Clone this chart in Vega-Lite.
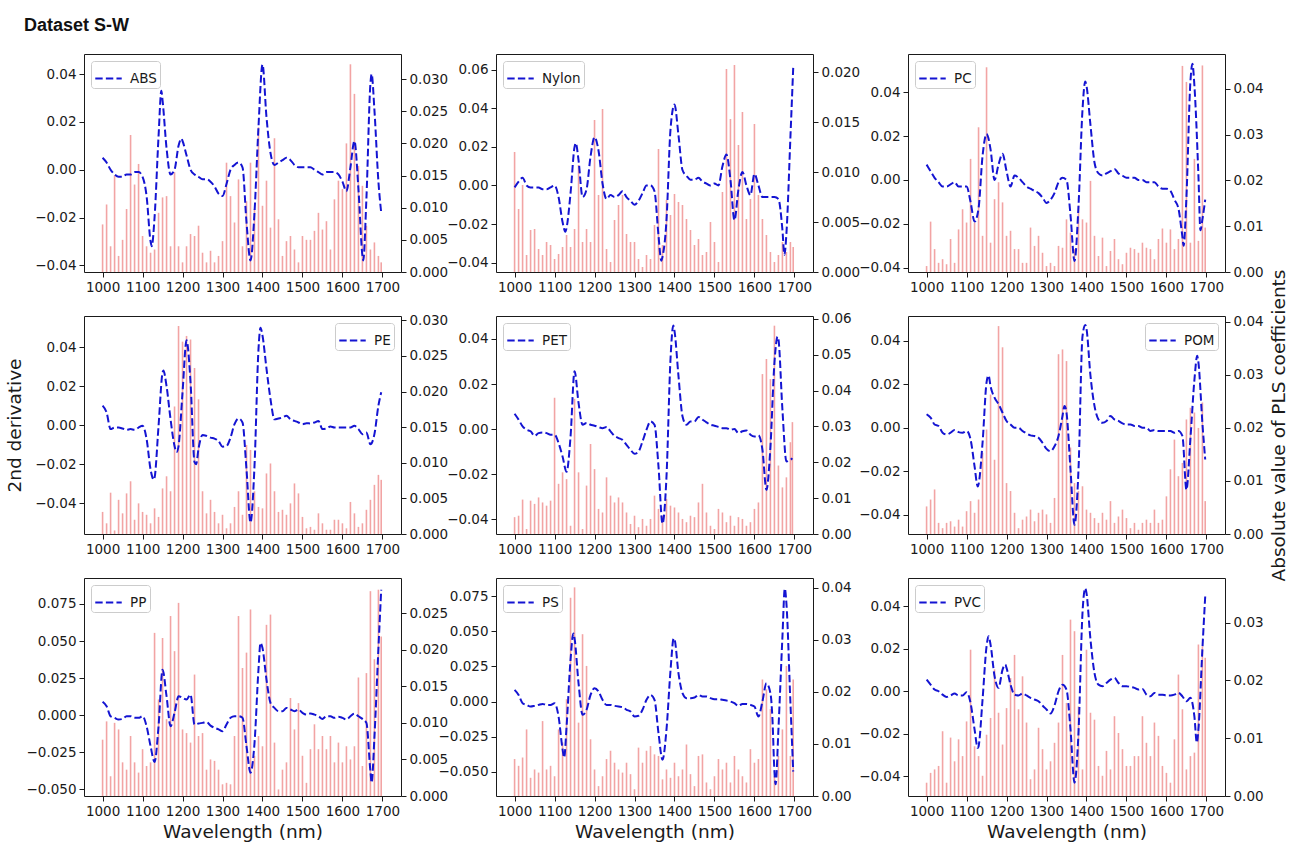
{
"$schema":"https://vega.github.io/schema/vega-lite/v6.json",
"padding":{"left":4,"top":16,"right":5,"bottom":5},
"title":{"text":"Dataset S-W","anchor":"start","frame":"group","font":"Liberation Sans","fontSize":18,"fontWeight":"bold","color":"#111111","dx":-60,"offset":5,"baseline":"alphabetic"},
"datasets":{
"abs":[{"w":1000,"d":0.005,"c":0.0074},{"w":1010,"d":0.003,"c":0.0105},{"w":1020,"d":0.0,"c":0.004},{"w":1030,"d":-0.002,"c":0.015},{"w":1040,"d":-0.003,"c":0.0025},{"w":1050,"d":-0.003,"c":0.005},{"w":1060,"d":-0.002,"c":0.0098},{"w":1070,"d":-0.002,"c":0.0213},{"w":1080,"d":-0.001,"c":0.0136},{"w":1090,"d":-0.001,"c":0.0168},{"w":1100,"d":-0.003,"c":0.0056},{"w":1110,"d":-0.011,"c":0.004},{"w":1120,"d":-0.03,"c":0.003},{"w":1123,"d":-0.032},{"w":1130,"d":-0.02,"c":0.0035},{"w":1140,"d":0.014,"c":0.0092},{"w":1147,"d":0.033},{"w":1150,"d":0.029,"c":0.0116},{"w":1160,"d":0.009,"c":0.0118},{"w":1170,"d":-0.002,"c":0.004},{"w":1180,"d":0.0,"c":0.0155},{"w":1190,"d":0.01,"c":0.004},{"w":1197,"d":0.013},{"w":1200,"d":0.012,"c":0.0015},{"w":1210,"d":0.006,"c":0.004},{"w":1220,"d":0.0,"c":0.0059},{"w":1230,"d":-0.002,"c":0.0056},{"w":1240,"d":-0.003,"c":0.0072},{"w":1250,"d":-0.004,"c":0.003},{"w":1260,"d":-0.004,"c":0.0015},{"w":1270,"d":-0.005,"c":0.0033},{"w":1280,"d":-0.007,"c":0.0015},{"w":1290,"d":-0.01,"c":0.0025},{"w":1300,"d":-0.011,"c":0.0048},{"w":1310,"d":-0.006,"c":0.017},{"w":1320,"d":0.0,"c":0.0118},{"w":1330,"d":0.002,"c":0.0077},{"w":1340,"d":0.003,"c":0.0144},{"w":1350,"d":0.001,"c":0.004},{"w":1360,"d":-0.022,"c":0.011},{"w":1370,"d":-0.038,"c":0.017},{"w":1380,"d":-0.018,"c":0.0098},{"w":1390,"d":0.018,"c":0.0225},{"w":1400,"d":0.044,"c":0.0103},{"w":1410,"d":0.022,"c":0.0142},{"w":1420,"d":0.007,"c":0.0069},{"w":1430,"d":0.002,"c":0.0208},{"w":1440,"d":0.003,"c":0.0082},{"w":1450,"d":0.004,"c":0.0025},{"w":1460,"d":0.005,"c":0.0048},{"w":1470,"d":0.004,"c":0.0056},{"w":1480,"d":0.002,"c":0.0035},{"w":1490,"d":0.001,"c":0.0015},{"w":1500,"d":0.001,"c":0.0056},{"w":1510,"d":0.001,"c":0.005},{"w":1520,"d":0.001,"c":0.005},{"w":1530,"d":0.0,"c":0.0064},{"w":1540,"d":-0.001,"c":0.0092},{"w":1550,"d":-0.002,"c":0.0066},{"w":1560,"d":-0.001,"c":0.0079},{"w":1570,"d":-0.001,"c":0.0035},{"w":1580,"d":-0.001,"c":0.0113},{"w":1590,"d":-0.002,"c":0.0142},{"w":1600,"d":-0.005,"c":0.0129},{"w":1610,"d":-0.009,"c":0.02},{"w":1620,"d":0.001,"c":0.0323},{"w":1630,"d":0.012,"c":0.0277},{"w":1640,"d":-0.008,"c":0.0165},{"w":1650,"d":-0.036,"c":0.0134},{"w":1652,"d":-0.038},{"w":1660,"d":-0.012,"c":0.0072},{"w":1670,"d":0.036,"c":0.0035},{"w":1673,"d":0.04},{"w":1680,"d":0.025,"c":0.0046},{"w":1690,"d":-0.005,"c":0.0025},{"w":1697,"d":-0.018,"c":0.0015}],
"nylon":[{"w":1000,"d":-0.001,"c":0.012},{"w":1010,"d":0.002,"c":0.0063},{"w":1020,"d":0.004,"c":0.0087},{"w":1030,"d":0.0,"c":0.0017},{"w":1040,"d":-0.001,"c":0.0042},{"w":1050,"d":-0.001,"c":0.0043},{"w":1060,"d":-0.001,"c":0.0023},{"w":1070,"d":-0.002,"c":0.0017},{"w":1080,"d":-0.002,"c":0.003},{"w":1090,"d":-0.001,"c":0.0027},{"w":1100,"d":0.0,"c":0.0013},{"w":1110,"d":-0.006,"c":0.0018},{"w":1120,"d":-0.019,"c":0.0025},{"w":1127,"d":-0.024},{"w":1130,"d":-0.022,"c":0.0037},{"w":1140,"d":-0.004,"c":0.0025},{"w":1150,"d":0.02,"c":0.0043},{"w":1153,"d":0.022},{"w":1160,"d":0.013,"c":0.0107},{"w":1170,"d":-0.006,"c":0.003},{"w":1180,"d":-0.002,"c":0.0043},{"w":1190,"d":0.015,"c":0.003},{"w":1200,"d":0.025,"c":0.0152},{"w":1210,"d":0.018,"c":0.0077},{"w":1220,"d":0.001,"c":0.0163},{"w":1230,"d":-0.007,"c":0.0023},{"w":1240,"d":-0.005,"c":0.001},{"w":1250,"d":-0.006,"c":0.0052},{"w":1260,"d":-0.005,"c":0.0067},{"w":1270,"d":-0.003,"c":0.0077},{"w":1280,"d":-0.006,"c":0.0038},{"w":1290,"d":-0.008,"c":0.003},{"w":1300,"d":-0.01,"c":0.003},{"w":1310,"d":-0.008,"c":0.0013},{"w":1320,"d":-0.004,"c":0.0005},{"w":1330,"d":0.0,"c":0.0017},{"w":1340,"d":0.0,"c":0.0013},{"w":1350,"d":-0.003,"c":0.0047},{"w":1360,"d":-0.026,"c":0.0123},{"w":1367,"d":-0.039},{"w":1370,"d":-0.037,"c":0.0027},{"w":1380,"d":-0.018,"c":0.0072},{"w":1390,"d":0.029,"c":0.0057},{"w":1400,"d":0.042,"c":0.0078},{"w":1410,"d":0.026,"c":0.007},{"w":1420,"d":0.008,"c":0.0067},{"w":1430,"d":0.005,"c":0.0053},{"w":1440,"d":0.003,"c":0.0042},{"w":1450,"d":0.003,"c":0.0027},{"w":1460,"d":0.004,"c":0.0033},{"w":1470,"d":0.002,"c":0.0017},{"w":1480,"d":0.001,"c":0.002},{"w":1490,"d":0.0,"c":0.005},{"w":1500,"d":0.001,"c":0.003},{"w":1510,"d":0.0,"c":0.001},{"w":1520,"d":0.01,"c":0.008},{"w":1530,"d":0.016,"c":0.0203},{"w":1540,"d":0.003,"c":0.0153},{"w":1550,"d":-0.018,"c":0.0207},{"w":1560,"d":-0.002,"c":0.0127},{"w":1570,"d":0.007,"c":0.016},{"w":1580,"d":0.0,"c":0.0053},{"w":1590,"d":-0.005,"c":0.0073},{"w":1600,"d":0.006,"c":0.0148},{"w":1610,"d":0.0,"c":0.0077},{"w":1620,"d":-0.006,"c":0.0053},{"w":1630,"d":-0.006,"c":0.0037},{"w":1640,"d":-0.006,"c":0.002},{"w":1650,"d":-0.006,"c":0.001},{"w":1660,"d":-0.007,"c":0.0017},{"w":1670,"d":-0.023,"c":0.003},{"w":1675,"d":-0.036},{"w":1680,"d":-0.025,"c":0.002},{"w":1690,"d":0.025,"c":0.003},{"w":1697,"d":0.061,"c":0.0025}],
"pc":[{"w":1000,"d":0.007,"c":0.0013},{"w":1010,"d":0.004,"c":0.011},{"w":1020,"d":0.001,"c":0.005},{"w":1030,"d":-0.001,"c":0.002},{"w":1040,"d":-0.003,"c":0.0028},{"w":1050,"d":-0.003,"c":0.0017},{"w":1060,"d":-0.002,"c":0.0072},{"w":1070,"d":-0.001,"c":0.002},{"w":1080,"d":-0.003,"c":0.0093},{"w":1090,"d":-0.003,"c":0.0137},{"w":1100,"d":-0.003,"c":0.0108},{"w":1110,"d":-0.01,"c":0.0247},{"w":1120,"d":-0.019,"c":0.0108},{"w":1130,"d":-0.013,"c":0.0316},{"w":1140,"d":0.011,"c":0.0079},{"w":1150,"d":0.021,"c":0.0447},{"w":1160,"d":0.014,"c":0.0064},{"w":1170,"d":0.0,"c":0.0159},{"w":1180,"d":0.007,"c":0.0196},{"w":1190,"d":0.012,"c":0.0152},{"w":1200,"d":0.004,"c":0.0079},{"w":1210,"d":-0.003,"c":0.009},{"w":1220,"d":0.002,"c":0.005},{"w":1230,"d":0.001,"c":0.005},{"w":1240,"d":-0.001,"c":0.002},{"w":1250,"d":-0.003,"c":0.002},{"w":1260,"d":-0.004,"c":0.0097},{"w":1270,"d":-0.005,"c":0.0057},{"w":1280,"d":-0.006,"c":0.0079},{"w":1290,"d":-0.008,"c":0.0042},{"w":1300,"d":-0.0105,"c":0.0013},{"w":1310,"d":-0.009,"c":0.002},{"w":1320,"d":-0.006,"c":0.0013},{"w":1330,"d":-0.001,"c":0.0057},{"w":1340,"d":0.001,"c":0.0053},{"w":1350,"d":0.0,"c":0.0115},{"w":1360,"d":-0.016,"c":0.0086},{"w":1370,"d":-0.037,"c":0.005},{"w":1380,"d":-0.012,"c":0.0145},{"w":1390,"d":0.032,"c":0.0115},{"w":1397,"d":0.045},{"w":1400,"d":0.043,"c":0.0108},{"w":1410,"d":0.025,"c":0.0199},{"w":1420,"d":0.008,"c":0.0079},{"w":1430,"d":0.003,"c":0.0035},{"w":1440,"d":0.002,"c":0.0075},{"w":1450,"d":0.003,"c":0.0013},{"w":1460,"d":0.004,"c":0.0046},{"w":1470,"d":0.005,"c":0.0072},{"w":1480,"d":0.003,"c":0.0028},{"w":1490,"d":0.002,"c":0.0017},{"w":1500,"d":0.001,"c":0.0042},{"w":1510,"d":0.001,"c":0.0053},{"w":1520,"d":0.001,"c":0.005},{"w":1530,"d":0.0,"c":0.0042},{"w":1540,"d":0.0,"c":0.0064},{"w":1550,"d":-0.001,"c":0.0053},{"w":1560,"d":-0.001,"c":0.005},{"w":1570,"d":-0.001,"c":0.0028},{"w":1580,"d":-0.003,"c":0.0072},{"w":1590,"d":-0.004,"c":0.0095},{"w":1600,"d":-0.004,"c":0.0064},{"w":1610,"d":-0.005,"c":0.0093},{"w":1620,"d":-0.009,"c":0.005},{"w":1630,"d":-0.013,"c":0.0072},{"w":1640,"d":-0.026,"c":0.045},{"w":1643,"d":-0.03},{"w":1650,"d":-0.008,"c":0.0415},{"w":1660,"d":0.045,"c":0.0064},{"w":1665,"d":0.053},{"w":1670,"d":0.043,"c":0.0247},{"w":1680,"d":0.002,"c":0.0068},{"w":1685,"d":-0.023},{"w":1690,"d":-0.018,"c":0.0451},{"w":1697,"d":-0.009,"c":0.0097}],
"pe":[{"w":1000,"d":0.01,"c":0.0031},{"w":1010,"d":0.0065,"c":0.0015},{"w":1020,"d":-0.002,"c":0.0058},{"w":1030,"d":-0.0012,"c":0.0005},{"w":1040,"d":-0.0012,"c":0.0048},{"w":1050,"d":-0.0017,"c":0.0029},{"w":1060,"d":-0.0024,"c":0.0057},{"w":1070,"d":-0.002,"c":0.0074},{"w":1080,"d":-0.0024,"c":0.002},{"w":1090,"d":-0.0012,"c":0.0043},{"w":1100,"d":-0.0003,"c":0.0031},{"w":1110,"d":-0.007,"c":0.0027},{"w":1120,"d":-0.0227,"c":0.0015},{"w":1128,"d":-0.028},{"w":1130,"d":-0.027,"c":0.0036},{"w":1140,"d":-0.0003,"c":0.0024},{"w":1150,"d":0.027,"c":0.0064},{"w":1152,"d":0.028},{"w":1160,"d":0.02,"c":0.0081},{"w":1170,"d":0.003,"c":0.006},{"w":1180,"d":-0.0107,"c":0.0179},{"w":1185,"d":-0.0138},{"w":1190,"d":-0.0107,"c":0.0292},{"w":1200,"d":0.0169,"c":0.027},{"w":1210,"d":0.0435,"c":0.0278},{"w":1220,"d":0.022,"c":0.0273},{"w":1230,"d":-0.019,"c":0.0233},{"w":1234,"d":-0.02},{"w":1240,"d":-0.012,"c":0.0189},{"w":1250,"d":-0.005,"c":0.006},{"w":1260,"d":-0.0055,"c":0.0029},{"w":1270,"d":-0.0064,"c":0.0048},{"w":1280,"d":-0.0069,"c":0.0031},{"w":1290,"d":-0.0081,"c":0.0015},{"w":1300,"d":-0.011,"c":0.0027},{"w":1310,"d":-0.0107,"c":0.0008},{"w":1320,"d":-0.0064,"c":0.0015},{"w":1330,"d":0.0005,"c":0.0038},{"w":1340,"d":0.0034,"c":0.006},{"w":1350,"d":0.0014,"c":0.0027},{"w":1360,"d":-0.0227,"c":0.0125},{"w":1370,"d":-0.05,"c":0.0118},{"w":1380,"d":-0.021,"c":0.006},{"w":1390,"d":0.039,"c":0.0038},{"w":1395,"d":0.05},{"w":1400,"d":0.046,"c":0.0036},{"w":1410,"d":0.029,"c":0.0085},{"w":1420,"d":0.0134,"c":0.0099},{"w":1430,"d":0.003,"c":0.006},{"w":1440,"d":0.0034,"c":0.0031},{"w":1450,"d":0.004,"c":0.0034},{"w":1460,"d":0.0048,"c":0.0027},{"w":1470,"d":0.003,"c":0.0043},{"w":1480,"d":0.0022,"c":0.0071},{"w":1490,"d":0.0014,"c":0.0057},{"w":1500,"d":0.0005,"c":0.0024},{"w":1510,"d":0.001,"c":0.0008},{"w":1520,"d":0.0009,"c":0.001},{"w":1530,"d":0.0014,"c":0.0006},{"w":1540,"d":0.0022,"c":0.0029},{"w":1550,"d":-0.002,"c":0.0015},{"w":1560,"d":-0.0017,"c":0.0006},{"w":1570,"d":-0.0007,"c":0.0006},{"w":1580,"d":-0.0012,"c":0.002},{"w":1590,"d":-0.0012,"c":0.002},{"w":1600,"d":-0.0012,"c":0.0015},{"w":1610,"d":-0.0012,"c":0.0008},{"w":1620,"d":-0.0012,"c":0.0045},{"w":1630,"d":-0.0003,"c":0.0029},{"w":1640,"d":-0.002,"c":0.001},{"w":1650,"d":-0.0046,"c":0.0015},{"w":1660,"d":-0.0038,"c":0.0034},{"w":1670,"d":-0.0098,"c":0.0048},{"w":1680,"d":-0.0046,"c":0.0069},{"w":1690,"d":0.01,"c":0.0083},{"w":1697,"d":0.0169,"c":0.0076}],
"pet":[{"w":1000,"d":0.0068,"c":0.0047},{"w":1010,"d":0.0042,"c":0.0051},{"w":1020,"d":0.0012,"c":0.0096},{"w":1030,"d":-0.0003,"c":0.0014},{"w":1040,"d":-0.001,"c":0.0093},{"w":1050,"d":-0.003,"c":0.0084},{"w":1060,"d":-0.0018,"c":0.0102},{"w":1070,"d":-0.0015,"c":0.0088},{"w":1080,"d":-0.0018,"c":0.0079},{"w":1090,"d":-0.0025,"c":0.0093},{"w":1100,"d":-0.0025,"c":0.038},{"w":1110,"d":-0.0062,"c":0.014},{"w":1120,"d":-0.0122,"c":0.0172},{"w":1130,"d":-0.019,"c":0.0153},{"w":1140,"d":-0.0033,"c":0.0023},{"w":1150,"d":0.0257,"c":0.0377},{"w":1160,"d":0.0116,"c":0.0172},{"w":1170,"d":0.0019,"c":0.0014},{"w":1180,"d":0.0027,"c":0.0135},{"w":1190,"d":0.0019,"c":0.0251},{"w":1200,"d":0.0015,"c":0.0181},{"w":1210,"d":0.0009,"c":0.007},{"w":1220,"d":0.0004,"c":0.006},{"w":1230,"d":0.0009,"c":0.0158},{"w":1240,"d":-0.001,"c":0.0107},{"w":1250,"d":-0.003,"c":0.0088},{"w":1260,"d":-0.004,"c":0.0102},{"w":1270,"d":-0.0048,"c":0.0088},{"w":1280,"d":-0.007,"c":0.006},{"w":1290,"d":-0.0092,"c":0.0028},{"w":1300,"d":-0.011,"c":0.0051},{"w":1310,"d":-0.01,"c":0.0019},{"w":1320,"d":-0.0055,"c":0.0042},{"w":1330,"d":-0.0003,"c":0.0023},{"w":1340,"d":0.0034,"c":0.0042},{"w":1350,"d":0.0019,"c":0.0107},{"w":1360,"d":-0.0167,"c":0.007},{"w":1370,"d":-0.042,"c":0.0051},{"w":1380,"d":-0.0211,"c":0.0098},{"w":1390,"d":0.031,"c":0.0079},{"w":1397,"d":0.046},{"w":1400,"d":0.0436,"c":0.0074},{"w":1410,"d":0.0235,"c":0.006},{"w":1420,"d":0.0057,"c":0.0042},{"w":1430,"d":0.0019,"c":0.0033},{"w":1440,"d":0.0034,"c":0.0051},{"w":1450,"d":0.0034,"c":0.0047},{"w":1460,"d":0.0054,"c":0.0088},{"w":1470,"d":0.0042,"c":0.014},{"w":1480,"d":0.003,"c":0.006},{"w":1490,"d":0.0019,"c":0.0023},{"w":1500,"d":0.0015,"c":0.0014},{"w":1510,"d":0.0009,"c":0.007},{"w":1520,"d":0.0004,"c":0.006},{"w":1530,"d":0.0004,"c":0.0033},{"w":1540,"d":-0.0003,"c":0.0051},{"w":1550,"d":0.0,"c":0.0023},{"w":1560,"d":-0.0018,"c":0.0047},{"w":1570,"d":-0.001,"c":0.0042},{"w":1580,"d":-0.0006,"c":0.0023},{"w":1590,"d":-0.0025,"c":0.0033},{"w":1600,"d":-0.0033,"c":0.007},{"w":1610,"d":-0.0028,"c":0.0088},{"w":1620,"d":-0.0092,"c":0.0446},{"w":1630,"d":-0.027,"c":0.0488},{"w":1640,"d":-0.008,"c":0.0432},{"w":1650,"d":0.0294,"c":0.0581},{"w":1658,"d":0.041},{"w":1660,"d":0.04,"c":0.0191},{"w":1670,"d":0.0086,"c":0.013},{"w":1680,"d":-0.0144,"c":0.0158},{"w":1690,"d":-0.0137,"c":0.0256},{"w":1695,"d":-0.013,"c":0.0312}],
"pom":[{"w":1000,"d":0.0062,"c":0.0052},{"w":1010,"d":0.0046,"c":0.0065},{"w":1020,"d":0.0015,"c":0.0084},{"w":1030,"d":0.0008,"c":0.0021},{"w":1040,"d":-0.0023,"c":0.0011},{"w":1050,"d":-0.0031,"c":0.0021},{"w":1060,"d":-0.0023,"c":0.0024},{"w":1070,"d":-0.0011,"c":0.0014},{"w":1080,"d":-0.002,"c":0.0027},{"w":1090,"d":-0.0023,"c":0.0014},{"w":1100,"d":-0.0015,"c":0.0043},{"w":1110,"d":-0.0054,"c":0.0062},{"w":1120,"d":-0.0177,"c":0.004},{"w":1128,"d":-0.027},{"w":1130,"d":-0.026,"c":0.0065},{"w":1140,"d":-0.0069,"c":0.0153},{"w":1150,"d":0.0208,"c":0.0197},{"w":1155,"d":0.024},{"w":1160,"d":0.019,"c":0.0263},{"w":1170,"d":0.0138,"c":0.014},{"w":1180,"d":0.0108,"c":0.0392},{"w":1190,"d":0.0069,"c":0.0352},{"w":1200,"d":0.0031,"c":0.0096},{"w":1210,"d":0.0015,"c":0.0081},{"w":1220,"d":0.0,"c":0.004},{"w":1230,"d":0.0,"c":0.0011},{"w":1240,"d":-0.0015,"c":0.0027},{"w":1250,"d":-0.0026,"c":0.0033},{"w":1260,"d":-0.0035,"c":0.0046},{"w":1270,"d":-0.0038,"c":0.0024},{"w":1280,"d":-0.0046,"c":0.004},{"w":1290,"d":-0.0069,"c":0.0046},{"w":1300,"d":-0.0097,"c":0.0037},{"w":1310,"d":-0.0108,"c":0.0021},{"w":1320,"d":-0.0085,"c":0.0068},{"w":1330,"d":-0.0038,"c":0.0339},{"w":1340,"d":0.0054,"c":0.0348},{"w":1345,"d":0.01},{"w":1350,"d":0.0069,"c":0.0326},{"w":1360,"d":-0.0192,"c":0.0163},{"w":1370,"d":-0.0446,"c":0.0096},{"w":1380,"d":-0.0192,"c":0.0081},{"w":1390,"d":0.042,"c":0.009},{"w":1397,"d":0.0472},{"w":1400,"d":0.0454,"c":0.0046},{"w":1410,"d":0.0238,"c":0.004},{"w":1420,"d":0.01,"c":0.003},{"w":1430,"d":0.0038,"c":0.0021},{"w":1440,"d":0.0023,"c":0.004},{"w":1450,"d":0.0031,"c":0.0027},{"w":1460,"d":0.0054,"c":0.0062},{"w":1470,"d":0.0038,"c":0.0021},{"w":1480,"d":0.0031,"c":0.0033},{"w":1490,"d":0.002,"c":0.0046},{"w":1500,"d":0.0015,"c":0.003},{"w":1510,"d":0.0015,"c":0.0011},{"w":1520,"d":0.0008,"c":0.0021},{"w":1530,"d":0.0008,"c":0.0008},{"w":1540,"d":0.0,"c":0.0021},{"w":1550,"d":0.0,"c":0.0027},{"w":1560,"d":-0.0015,"c":0.0021},{"w":1570,"d":-0.0011,"c":0.0046},{"w":1580,"d":-0.0015,"c":0.0021},{"w":1590,"d":-0.0015,"c":0.0027},{"w":1600,"d":-0.0015,"c":0.0071},{"w":1610,"d":-0.0015,"c":0.0122},{"w":1620,"d":-0.0023,"c":0.0178},{"w":1630,"d":-0.0015,"c":0.0109},{"w":1640,"d":-0.0038,"c":0.0134},{"w":1650,"d":-0.0285,"c":0.0216},{"w":1660,"d":-0.005,"c":0.0238},{"w":1670,"d":0.022,"c":0.0229},{"w":1677,"d":0.033},{"w":1680,"d":0.03,"c":0.02},{"w":1690,"d":0.002,"c":0.0248},{"w":1697,"d":-0.0146,"c":0.0062}],
"pp":[{"w":1000,"d":0.009,"c":0.0077},{"w":1010,"d":0.006,"c":0.0102},{"w":1020,"d":-0.0007,"c":0.0027},{"w":1030,"d":-0.0018,"c":0.01},{"w":1040,"d":-0.0029,"c":0.0091},{"w":1050,"d":-0.0025,"c":0.0046},{"w":1060,"d":-0.0007,"c":0.0036},{"w":1070,"d":-0.0007,"c":0.0082},{"w":1080,"d":-0.0018,"c":0.0046},{"w":1090,"d":-0.0018,"c":0.0032},{"w":1100,"d":-0.0007,"c":0.0064},{"w":1110,"d":-0.0074,"c":0.0041},{"w":1120,"d":-0.0209,"c":0.0046},{"w":1130,"d":-0.0316,"c":0.0223},{"w":1140,"d":-0.0074,"c":0.0132},{"w":1150,"d":0.0307,"c":0.0216},{"w":1160,"d":0.0128,"c":0.0105},{"w":1170,"d":-0.0074,"c":0.0246},{"w":1180,"d":0.0016,"c":0.0198},{"w":1190,"d":0.0128,"c":0.0264},{"w":1200,"d":0.0117,"c":0.0091},{"w":1210,"d":0.0105,"c":0.0086},{"w":1220,"d":0.0139,"c":0.0073},{"w":1230,"d":-0.0063,"c":0.0166},{"w":1240,"d":-0.0056,"c":0.0082},{"w":1250,"d":-0.0052,"c":0.0086},{"w":1260,"d":-0.0047,"c":0.0036},{"w":1270,"d":-0.007,"c":0.005},{"w":1280,"d":-0.0085,"c":0.0048},{"w":1290,"d":-0.0096,"c":0.0036},{"w":1300,"d":-0.0108,"c":0.0016},{"w":1310,"d":-0.0063,"c":0.0018},{"w":1320,"d":-0.0018,"c":0.0016},{"w":1330,"d":-0.0007,"c":0.0082},{"w":1340,"d":-0.0007,"c":0.0246},{"w":1350,"d":-0.0018,"c":0.0175},{"w":1360,"d":-0.0209,"c":0.0196},{"w":1370,"d":-0.0388,"c":0.0255},{"w":1380,"d":-0.019,"c":0.0055},{"w":1390,"d":0.031,"c":0.0082},{"w":1395,"d":0.0487},{"w":1400,"d":0.0453,"c":0.0068},{"w":1410,"d":0.024,"c":0.0234},{"w":1420,"d":0.0083,"c":0.0248},{"w":1430,"d":0.0049,"c":0.0073},{"w":1440,"d":0.0027,"c":0.0009},{"w":1450,"d":0.0027,"c":0.0036},{"w":1460,"d":0.0049,"c":0.0046},{"w":1470,"d":0.0038,"c":0.0134},{"w":1480,"d":0.0027,"c":0.0091},{"w":1490,"d":0.0038,"c":0.0127},{"w":1500,"d":0.0016,"c":0.0055},{"w":1510,"d":0.0004,"c":0.0018},{"w":1520,"d":0.0011,"c":0.0064},{"w":1530,"d":0.0004,"c":0.0098},{"w":1540,"d":-0.0007,"c":0.0064},{"w":1550,"d":-0.0025,"c":0.0082},{"w":1560,"d":-0.0007,"c":0.0064},{"w":1570,"d":-0.0007,"c":0.0082},{"w":1580,"d":-0.0018,"c":0.0046},{"w":1590,"d":-0.0011,"c":0.0073},{"w":1600,"d":-0.0018,"c":0.0046},{"w":1610,"d":-0.0029,"c":0.0068},{"w":1620,"d":-0.0007,"c":0.005},{"w":1630,"d":0.0011,"c":0.0068},{"w":1640,"d":-0.0007,"c":0.0162},{"w":1650,"d":-0.0025,"c":0.0041},{"w":1660,"d":-0.0052,"c":0.0168},{"w":1670,"d":-0.038,"c":0.028},{"w":1673,"d":-0.0455},{"w":1680,"d":-0.015,"c":0.0187},{"w":1690,"d":0.045,"c":0.0282},{"w":1697,"d":0.0846,"c":0.0218}],
"ps":[{"w":1000,"d":0.0083,"c":0.0071},{"w":1010,"d":0.0047,"c":0.0058},{"w":1020,"d":-0.0012,"c":0.0074},{"w":1030,"d":-0.0024,"c":0.0128},{"w":1040,"d":-0.0036,"c":0.0035},{"w":1050,"d":-0.0031,"c":0.0051},{"w":1060,"d":-0.0024,"c":0.0045},{"w":1070,"d":-0.0017,"c":0.0144},{"w":1080,"d":-0.0024,"c":0.0051},{"w":1090,"d":-0.0024,"c":0.0058},{"w":1100,"d":-0.0012,"c":0.0038},{"w":1110,"d":-0.0107,"c":0.0128},{"w":1120,"d":-0.034,"c":0.0103},{"w":1124,"d":-0.04},{"w":1130,"d":-0.018,"c":0.0186},{"w":1140,"d":0.03,"c":0.0381},{"w":1147,"d":0.0486},{"w":1150,"d":0.045,"c":0.0401},{"w":1160,"d":0.013,"c":0.0141},{"w":1170,"d":-0.0095,"c":0.0311},{"w":1180,"d":-0.0059,"c":0.025},{"w":1190,"d":0.0047,"c":0.0109},{"w":1200,"d":0.0095,"c":0.0051},{"w":1210,"d":0.0071,"c":0.0019},{"w":1220,"d":0.0012,"c":0.0038},{"w":1230,"d":-0.0024,"c":0.0071},{"w":1240,"d":-0.0024,"c":0.0087},{"w":1250,"d":-0.0031,"c":0.0064},{"w":1260,"d":-0.0036,"c":0.0051},{"w":1270,"d":-0.004,"c":0.0045},{"w":1280,"d":-0.0059,"c":0.0064},{"w":1290,"d":-0.0071,"c":0.0042},{"w":1300,"d":-0.0107,"c":0.0013},{"w":1310,"d":-0.0102,"c":0.0093},{"w":1320,"d":-0.0059,"c":0.0064},{"w":1330,"d":0.0012,"c":0.0087},{"w":1340,"d":0.0047,"c":0.0096},{"w":1350,"d":0.0012,"c":0.008},{"w":1360,"d":-0.0225,"c":0.0077},{"w":1370,"d":-0.0415,"c":0.0032},{"w":1380,"d":-0.02,"c":0.0051},{"w":1390,"d":0.022,"c":0.0035},{"w":1398,"d":0.045},{"w":1400,"d":0.0445,"c":0.0064},{"w":1410,"d":0.0201,"c":0.0038},{"w":1420,"d":0.0059,"c":0.0051},{"w":1430,"d":0.0024,"c":0.0099},{"w":1440,"d":0.0024,"c":0.0042},{"w":1450,"d":0.0028,"c":0.0019},{"w":1460,"d":0.0047,"c":0.0077},{"w":1470,"d":0.0036,"c":0.008},{"w":1480,"d":0.0036,"c":0.0026},{"w":1490,"d":0.0024,"c":0.0013},{"w":1500,"d":0.0017,"c":0.0038},{"w":1510,"d":0.0017,"c":0.0071},{"w":1520,"d":0.0012,"c":0.0051},{"w":1530,"d":0.0007,"c":0.0064},{"w":1540,"d":0.0,"c":0.0026},{"w":1550,"d":-0.0012,"c":0.0077},{"w":1560,"d":-0.0031,"c":0.0051},{"w":1570,"d":-0.0017,"c":0.0038},{"w":1580,"d":-0.0017,"c":0.0026},{"w":1590,"d":-0.0024,"c":0.009},{"w":1600,"d":-0.0036,"c":0.0064},{"w":1610,"d":-0.0107,"c":0.0071},{"w":1620,"d":0.0,"c":0.0224},{"w":1630,"d":0.013,"c":0.0205},{"w":1640,"d":0.006,"c":0.0167},{"w":1645,"d":-0.012},{"w":1650,"d":-0.05,"c":0.0038},{"w":1653,"d":-0.059},{"w":1660,"d":-0.02,"c":0.0077},{"w":1670,"d":0.046,"c":0.0128},{"w":1676,"d":0.0806},{"w":1680,"d":0.07,"c":0.025},{"w":1690,"d":-0.001,"c":0.0077},{"w":1697,"d":-0.05,"c":0.0224}],
"pvc":[{"w":1000,"d":0.0055,"c":0.0023},{"w":1010,"d":0.0031,"c":0.004},{"w":1020,"d":0.0008,"c":0.0046},{"w":1030,"d":0.0,"c":0.0052},{"w":1040,"d":-0.0016,"c":0.0112},{"w":1050,"d":-0.0027,"c":0.0023},{"w":1060,"d":-0.002,"c":0.0101},{"w":1070,"d":-0.0011,"c":0.006},{"w":1080,"d":-0.002,"c":0.0098},{"w":1090,"d":-0.002,"c":0.0069},{"w":1100,"d":-0.0005,"c":0.0129},{"w":1110,"d":-0.0055,"c":0.0253},{"w":1120,"d":-0.018,"c":0.0086},{"w":1128,"d":-0.0267},{"w":1130,"d":-0.026,"c":0.0069},{"w":1140,"d":-0.0039,"c":0.0035},{"w":1150,"d":0.0212,"c":0.0106},{"w":1155,"d":0.0259},{"w":1160,"d":0.022,"c":0.0135},{"w":1170,"d":0.0071,"c":0.0219},{"w":1180,"d":0.0016,"c":0.0144},{"w":1190,"d":0.0102,"c":0.0089},{"w":1197,"d":0.0126},{"w":1200,"d":0.011,"c":0.0152},{"w":1210,"d":0.0031,"c":0.0204},{"w":1220,"d":-0.0016,"c":0.0244},{"w":1230,"d":-0.002,"c":0.015},{"w":1240,"d":-0.0011,"c":0.0207},{"w":1250,"d":-0.002,"c":0.0127},{"w":1260,"d":-0.0031,"c":0.0029},{"w":1270,"d":-0.0039,"c":0.0046},{"w":1280,"d":-0.0047,"c":0.0118},{"w":1290,"d":-0.0067,"c":0.0081},{"w":1300,"d":-0.0086,"c":0.0046},{"w":1310,"d":-0.0105,"c":0.006},{"w":1320,"d":-0.0067,"c":0.0092},{"w":1330,"d":0.0,"c":0.0127},{"w":1340,"d":0.0031,"c":0.0244},{"w":1350,"d":0.0008,"c":0.0161},{"w":1360,"d":-0.018,"c":0.0305},{"w":1370,"d":-0.0431,"c":0.0285},{"w":1380,"d":-0.0196,"c":0.0155},{"w":1390,"d":0.0369,"c":0.0046},{"w":1397,"d":0.0486},{"w":1400,"d":0.0463,"c":0.0253},{"w":1410,"d":0.0243,"c":0.0144},{"w":1420,"d":0.0086,"c":0.0132},{"w":1430,"d":0.0031,"c":0.0052},{"w":1440,"d":0.0024,"c":0.0035},{"w":1450,"d":0.0039,"c":0.0078},{"w":1460,"d":0.0055,"c":0.0046},{"w":1470,"d":0.0063,"c":0.0138},{"w":1480,"d":0.0039,"c":0.0109},{"w":1490,"d":0.0024,"c":0.0081},{"w":1500,"d":0.0024,"c":0.0052},{"w":1510,"d":0.002,"c":0.0052},{"w":1520,"d":0.0016,"c":0.0069},{"w":1530,"d":0.0008,"c":0.0069},{"w":1540,"d":0.0011,"c":0.0138},{"w":1550,"d":-0.0016,"c":0.0092},{"w":1560,"d":-0.0024,"c":0.0069},{"w":1570,"d":-0.0008,"c":0.0127},{"w":1580,"d":-0.0016,"c":0.0104},{"w":1590,"d":-0.0016,"c":0.0052},{"w":1600,"d":-0.002,"c":0.004},{"w":1610,"d":-0.002,"c":0.0023},{"w":1620,"d":-0.0016,"c":0.0098},{"w":1630,"d":-0.0008,"c":0.021},{"w":1640,"d":-0.0024,"c":0.015},{"w":1650,"d":-0.0047,"c":0.0046},{"w":1660,"d":-0.0031,"c":0.0069},{"w":1670,"d":-0.012,"c":0.0075},{"w":1676,"d":-0.0243},{"w":1680,"d":-0.018,"c":0.0262},{"w":1690,"d":0.02,"c":0.0259},{"w":1697,"d":0.0447,"c":0.0239}]
},
"columns":3,
"spacing":{"row":44,"column":95},
"bounds":"flush",
"resolve":{"scale":{"color":"independent"},"legend":{"color":"independent"}},
"concat":[
{"width":317,"height":218,"data":{"name":"abs"},
 "encoding":{"x":{"field":"w","type":"quantitative","scale":{"domain":[966,1734],"nice":false,"zero":false},"axis":{"values":[1000,1100,1200,1300,1400,1500,1600,1700],"format":"d","title":null}}},
 "layer":[
  {"mark":{"type":"bar","width":1.6,"color":"#f2a4a4","clip":true},"encoding":{"y":{"field":"c","type":"quantitative","scale":{"domain":[0,0.0339],"nice":false},"axis":{"orient":"right","values":[0,0.005,0.01,0.015,0.02,0.025,0.03],"format":".3f","title":null}}}},
  {"mark":{"type":"line","strokeWidth":2,"strokeDash":[7.4,3.2],"interpolate":"monotone","clip":true},"encoding":{"y":{"field":"d","type":"quantitative","scale":{"domain":[-0.0428,0.0484],"nice":false,"zero":false},"axis":{"orient":"left","values":[-0.04,-0.02,0,0.02,0.04],"format":".2f","title":null}},"color":{"datum":"ABS","type":"nominal","scale":{"range":["#1414d2"]},"legend":{"orient":"top-left"}}}}
 ],
 "resolve":{"scale":{"y":"independent"}}},
{"width":317,"height":218,"data":{"name":"nylon"},
 "encoding":{"x":{"field":"w","type":"quantitative","scale":{"domain":[966,1734],"nice":false,"zero":false},"axis":{"values":[1000,1100,1200,1300,1400,1500,1600,1700],"format":"d","title":null}}},
 "layer":[
  {"mark":{"type":"bar","width":1.6,"color":"#f2a4a4","clip":true},"encoding":{"y":{"field":"c","type":"quantitative","scale":{"domain":[0,0.0218],"nice":false},"axis":{"orient":"right","values":[0,0.005,0.01,0.015,0.02],"format":".3f","title":null}}}},
  {"mark":{"type":"line","strokeWidth":2,"strokeDash":[7.4,3.2],"interpolate":"monotone","clip":true},"encoding":{"y":{"field":"d","type":"quantitative","scale":{"domain":[-0.0449,0.0682],"nice":false,"zero":false},"axis":{"orient":"left","values":[-0.04,-0.02,0,0.02,0.04,0.06],"format":".2f","title":null}},"color":{"datum":"Nylon","type":"nominal","scale":{"range":["#1414d2"]},"legend":{"orient":"top-left"}}}}
 ],
 "resolve":{"scale":{"y":"independent"}}},
{"width":317,"height":218,"data":{"name":"pc"},
 "encoding":{"x":{"field":"w","type":"quantitative","scale":{"domain":[966,1734],"nice":false,"zero":false},"axis":{"values":[1000,1100,1200,1300,1400,1500,1600,1700],"format":"d","title":null}}},
 "layer":[
  {"mark":{"type":"bar","width":1.6,"color":"#f2a4a4","clip":true},"encoding":{"y":{"field":"c","type":"quantitative","scale":{"domain":[0,0.0476],"nice":false},"axis":{"orient":"right","values":[0,0.01,0.02,0.03,0.04],"format":".2f","title":null}}}},
  {"mark":{"type":"line","strokeWidth":2,"strokeDash":[7.4,3.2],"interpolate":"monotone","clip":true},"encoding":{"y":{"field":"d","type":"quantitative","scale":{"domain":[-0.042,0.0575],"nice":false,"zero":false},"axis":{"orient":"left","values":[-0.04,-0.02,0,0.02,0.04],"format":".2f","title":null}},"color":{"datum":"PC","type":"nominal","scale":{"range":["#1414d2"]},"legend":{"orient":"top-left"}}}}
 ],
 "resolve":{"scale":{"y":"independent"}}},
{"width":317,"height":218,"data":{"name":"pe"},
 "encoding":{"x":{"field":"w","type":"quantitative","scale":{"domain":[966,1734],"nice":false,"zero":false},"axis":{"values":[1000,1100,1200,1300,1400,1500,1600,1700],"format":"d","title":null}}},
 "layer":[
  {"mark":{"type":"bar","width":1.6,"color":"#f2a4a4","clip":true},"encoding":{"y":{"field":"c","type":"quantitative","scale":{"domain":[0,0.0306],"nice":false},"axis":{"orient":"right","values":[0,0.005,0.01,0.015,0.02,0.025,0.03],"format":".3f","title":null}}}},
  {"mark":{"type":"line","strokeWidth":2,"strokeDash":[7.4,3.2],"interpolate":"monotone","clip":true},"encoding":{"y":{"field":"d","type":"quantitative","scale":{"domain":[-0.0558,0.056],"nice":false,"zero":false},"axis":{"orient":"left","values":[-0.04,-0.02,0,0.02,0.04],"format":".2f","title":"2nd derivative","titleX":-70,"titleY":109,"titleAngle":270,"titleAlign":"center","titleBaseline":"middle"}},"color":{"datum":"PE","type":"nominal","scale":{"range":["#1414d2"]},"legend":{"orient":"top-right"}}}}
 ],
 "resolve":{"scale":{"y":"independent"}}},
{"width":317,"height":218,"data":{"name":"pet"},
 "encoding":{"x":{"field":"w","type":"quantitative","scale":{"domain":[966,1734],"nice":false,"zero":false},"axis":{"values":[1000,1100,1200,1300,1400,1500,1600,1700],"format":"d","title":null}}},
 "layer":[
  {"mark":{"type":"bar","width":1.6,"color":"#f2a4a4","clip":true},"encoding":{"y":{"field":"c","type":"quantitative","scale":{"domain":[0,0.0608],"nice":false},"axis":{"orient":"right","values":[0,0.01,0.02,0.03,0.04,0.05,0.06],"format":".2f","title":null}}}},
  {"mark":{"type":"line","strokeWidth":2,"strokeDash":[7.4,3.2],"interpolate":"monotone","clip":true},"encoding":{"y":{"field":"d","type":"quantitative","scale":{"domain":[-0.0466,0.0502],"nice":false,"zero":false},"axis":{"orient":"left","values":[-0.04,-0.02,0,0.02,0.04],"format":".2f","title":null}},"color":{"datum":"PET","type":"nominal","scale":{"range":["#1414d2"]},"legend":{"orient":"top-left"}}}}
 ],
 "resolve":{"scale":{"y":"independent"}}},
{"width":317,"height":218,"data":{"name":"pom"},
 "encoding":{"x":{"field":"w","type":"quantitative","scale":{"domain":[966,1734],"nice":false,"zero":false},"axis":{"values":[1000,1100,1200,1300,1400,1500,1600,1700],"format":"d","title":null}}},
 "layer":[
  {"mark":{"type":"bar","width":1.6,"color":"#f2a4a4","clip":true},"encoding":{"y":{"field":"c","type":"quantitative","scale":{"domain":[0,0.0411],"nice":false},"axis":{"orient":"right","values":[0,0.01,0.02,0.03,0.04],"format":".2f","title":"Absolute value of PLS coefficients","titleX":53,"titleY":109,"titleAngle":270,"titleAlign":"center","titleBaseline":"middle"}}}},
  {"mark":{"type":"line","strokeWidth":2,"strokeDash":[7.4,3.2],"interpolate":"monotone","clip":true},"encoding":{"y":{"field":"d","type":"quantitative","scale":{"domain":[-0.0488,0.0513],"nice":false,"zero":false},"axis":{"orient":"left","values":[-0.04,-0.02,0,0.02,0.04],"format":".2f","title":null}},"color":{"datum":"POM","type":"nominal","scale":{"range":["#1414d2"]},"legend":{"orient":"top-right"}}}}
 ],
 "resolve":{"scale":{"y":"independent"}}},
{"width":317,"height":218,"data":{"name":"pp"},
 "encoding":{"x":{"field":"w","type":"quantitative","scale":{"domain":[966,1734],"nice":false,"zero":false},"axis":{"values":[1000,1100,1200,1300,1400,1500,1600,1700],"format":"d","title":"Wavelength (nm)","titleY":41,"titleBaseline":"alphabetic"}}},
 "layer":[
  {"mark":{"type":"bar","width":1.6,"color":"#f2a4a4","clip":true},"encoding":{"y":{"field":"c","type":"quantitative","scale":{"domain":[0,0.0298],"nice":false},"axis":{"orient":"right","values":[0,0.005,0.01,0.015,0.02,0.025],"format":".3f","title":null}}}},
  {"mark":{"type":"line","strokeWidth":2,"strokeDash":[7.4,3.2],"interpolate":"monotone","clip":true},"encoding":{"y":{"field":"d","type":"quantitative","scale":{"domain":[-0.0545,0.0925],"nice":false,"zero":false},"axis":{"orient":"left","values":[-0.05,-0.025,0,0.025,0.05,0.075],"format":".3f","title":null}},"color":{"datum":"PP","type":"nominal","scale":{"range":["#1414d2"]},"legend":{"orient":"top-left"}}}}
 ],
 "resolve":{"scale":{"y":"independent"}}},
{"width":317,"height":218,"data":{"name":"ps"},
 "encoding":{"x":{"field":"w","type":"quantitative","scale":{"domain":[966,1734],"nice":false,"zero":false},"axis":{"values":[1000,1100,1200,1300,1400,1500,1600,1700],"format":"d","title":"Wavelength (nm)","titleY":41,"titleBaseline":"alphabetic"}}},
 "layer":[
  {"mark":{"type":"bar","width":1.6,"color":"#f2a4a4","clip":true},"encoding":{"y":{"field":"c","type":"quantitative","scale":{"domain":[0,0.0419],"nice":false},"axis":{"orient":"right","values":[0,0.01,0.02,0.03,0.04],"format":".2f","title":null}}}},
  {"mark":{"type":"line","strokeWidth":2,"strokeDash":[7.4,3.2],"interpolate":"monotone","clip":true},"encoding":{"y":{"field":"d","type":"quantitative","scale":{"domain":[-0.0674,0.0881],"nice":false,"zero":false},"axis":{"orient":"left","values":[-0.05,-0.025,0,0.025,0.05,0.075],"format":".3f","title":null}},"color":{"datum":"PS","type":"nominal","scale":{"range":["#1414d2"]},"legend":{"orient":"top-left"}}}}
 ],
 "resolve":{"scale":{"y":"independent"}}},
{"width":317,"height":218,"data":{"name":"pvc"},
 "encoding":{"x":{"field":"w","type":"quantitative","scale":{"domain":[966,1734],"nice":false,"zero":false},"axis":{"values":[1000,1100,1200,1300,1400,1500,1600,1700],"format":"d","title":"Wavelength (nm)","titleY":41,"titleBaseline":"alphabetic"}}},
 "layer":[
  {"mark":{"type":"bar","width":1.6,"color":"#f2a4a4","clip":true},"encoding":{"y":{"field":"c","type":"quantitative","scale":{"domain":[0,0.0377],"nice":false},"axis":{"orient":"right","values":[0,0.01,0.02,0.03],"format":".2f","title":null}}}},
  {"mark":{"type":"line","strokeWidth":2,"strokeDash":[7.4,3.2],"interpolate":"monotone","clip":true},"encoding":{"y":{"field":"d","type":"quantitative","scale":{"domain":[-0.0494,0.0534],"nice":false,"zero":false},"axis":{"orient":"left","values":[-0.04,-0.02,0,0.02,0.04],"format":".2f","title":null}},"color":{"datum":"PVC","type":"nominal","scale":{"range":["#1414d2"]},"legend":{"orient":"top-left"}}}}
 ],
 "resolve":{"scale":{"y":"independent"}}}
],
"config":{
 "font":"DejaVu Sans",
 "view":{"stroke":"#1a1a1a","strokeWidth":1},
 "axis":{"domain":false,"grid":false,"ticks":true,"tickSize":5,"tickColor":"#1a1a1a","tickWidth":1,"labelFont":"DejaVu Sans","labelFontSize":13.5,"labelColor":"#1a1a1a","labelPadding":3,"labelOverlap":false,"titleFont":"DejaVu Sans","titleFontSize":18.5,"titleFontWeight":"normal","titleColor":"#1a1a1a"},
 "axisX":{"labelFlush":false},
 "legend":{"title":null,"offset":7,"symbolType":"stroke","symbolSize":700,"symbolStrokeWidth":2,"symbolDash":[7.4,3.2],"labelFont":"DejaVu Sans","labelFontSize":13.5,"labelColor":"#1a1a1a","strokeColor":"#cccccc","fillColor":"rgba(255,255,255,0.8)","cornerRadius":3,"padding":3,"labelOffset":7}
}
}
